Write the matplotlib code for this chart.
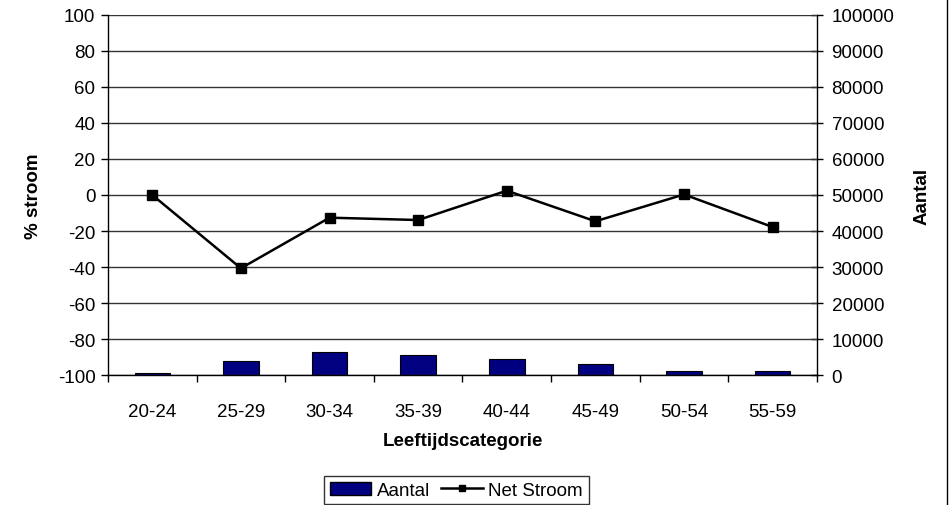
import matplotlib
matplotlib.use("Agg")
import matplotlib.pyplot as plt
from matplotlib.lines import Line2D
from matplotlib.patches import Patch

plt.rcParams['font.family'] = ['Liberation Sans', 'DejaVu Sans']
plt.rcParams['font.size'] = 13.5
plt.rcParams['axes.unicode_minus'] = False

categories = ["20-24", "25-29", "30-34", "35-39", "40-44", "45-49", "50-54", "55-59"]
net_stroom = [0, -40.7, -12.6, -13.9, 2.4, -14.6, 0.3, -17.8]
aantal = [500, 3800, 6400, 5650, 4350, 2950, 1000, 1000]

fig = plt.figure(figsize=(9.53, 5.06), dpi=100)
ax = fig.add_axes([0.1133, 0.2569, 0.744, 0.7115])
ax2 = ax.twinx()

# bars on the right axis, drawn underneath the line axis
x = list(range(len(categories)))
ax2.bar(x, aantal, width=0.4, color="#000080", edgecolor="black", linewidth=0.8)
ax.set_zorder(ax2.get_zorder() + 1)
ax.patch.set_visible(False)

ax.plot(x, net_stroom, color="black", lw=1.8, marker="s", markersize=7,
        markerfacecolor="black", markeredgecolor="black")

ax.set_xlim(-0.5, len(categories) - 0.5)
ax.set_ylim(-100, 100)
ax.set_yticks(range(-100, 101, 20))
ax2.set_ylim(0, 100000)
ax2.set_yticks(range(0, 100001, 10000))

# ticks between categories, labels at the centres
ax.set_xticks([i - 0.5 for i in range(len(categories) + 1)])
ax.set_xticklabels([])
ax.set_xticks(x, minor=True)
ax.set_xticklabels(categories, minor=True)
ax.tick_params(axis="x", which="major", length=5, direction="out", width=1)
ax.tick_params(axis="x", which="minor", length=0, pad=20)
ax.tick_params(axis="y", length=5, direction="out", width=1, pad=4)
ax2.tick_params(axis="y", length=9, direction="inout", width=1, pad=6)

ax.yaxis.grid(True, color="#333333", lw=1)
ax.set_axisbelow(True)

ax.spines["top"].set_visible(False)
ax2.spines["top"].set_visible(False)
ax2.spines["left"].set_visible(False)
ax2.spines["bottom"].set_visible(False)
ax.spines["right"].set_visible(False)
for a in (ax, ax2):
    for sp in a.spines.values():
        sp.set_color("black")
        sp.set_linewidth(1)

ax.set_ylabel("% stroom", fontweight="bold", labelpad=11)
ax2.set_ylabel("Aantal", fontweight="bold", labelpad=14)
ax.set_xlabel("Leeftijdscategorie", fontweight="bold", labelpad=9)

handles = [Patch(facecolor="#000080", edgecolor="black", label="Aantal"),
           Line2D([0], [0], color="black", lw=1.8, marker="s", markersize=5, label="Net Stroom")]
leg = fig.legend(handles=handles, loc="upper center", bbox_to_anchor=(0.479, 0.076),
                 ncol=2, frameon=True, fancybox=False, edgecolor="black",
                 handlelength=2.2, handletextpad=0.3, columnspacing=0.6,
                 borderpad=0.3, fontsize=13.5)
leg.get_frame().set_linewidth(1)

# chart-area border on the right edge
fig.add_artist(Line2D([947 / 953, 947 / 953], [0, 1], transform=fig.transFigure,
                      color="black", lw=1))

fig.savefig("out.png", dpi=100)
